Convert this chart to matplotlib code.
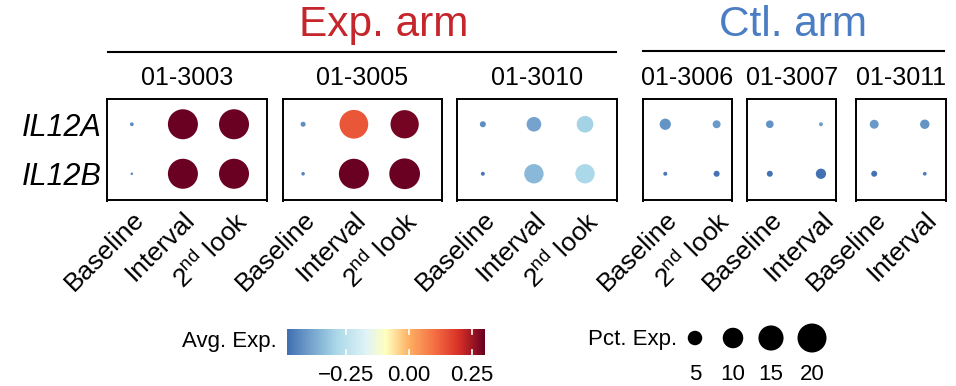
import numpy as np
import matplotlib
matplotlib.use("Agg")
import matplotlib.pyplot as plt
from matplotlib.colors import LinearSegmentedColormap

plt.rcParams['font.family'] = ['Liberation Sans', 'DejaVu Sans']
plt.rcParams['mathtext.fontset'] = 'custom'
plt.rcParams['mathtext.rm'] = 'Liberation Sans'
plt.rcParams['mathtext.it'] = 'Liberation Sans:italic'

# ---- data ----
genes = ["IL12A", "IL12B"]
samples = ["01-3003", "01-3005", "01-3010", "01-3006", "01-3007", "01-3011"]
SECOND = "2$^{\\mathrm{nd}}$ look"
timepoints = [
    ["Baseline", "Interval", SECOND],
    ["Baseline", "Interval", SECOND],
    ["Baseline", "Interval", SECOND],
    ["Baseline", SECOND],
    ["Baseline", "Interval"],
    ["Baseline", "Interval"],
]
# rows = genes, cols = timepoints
avg_exp = [
    [[-0.43, 0.30, 0.30], [-0.45, 0.30, 0.30]],
    [[-0.43, 0.14, 0.29], [-0.45, 0.30, 0.30]],
    [[-0.43, -0.39, -0.30], [-0.47, -0.35, -0.29]],
    [[-0.42, -0.41], [-0.47, -0.48]],
    [[-0.42, -0.40], [-0.48, -0.487]],
    [[-0.41, -0.42], [-0.48, -0.46]],
]
pct_exp = [
    [[0.35, 21.4, 21.4], [0.15, 21.4, 21.4]],
    [[0.60, 19.6, 19.0], [0.30, 21.4, 22.4]],
    [[0.86, 5.1, 6.6], [0.38, 8.9, 8.9]],
    [[3.0, 1.5], [0.38, 0.86]],
    [[1.4, 0.38], [0.86, 2.5]],
    [[1.9, 2.1], [0.86, 0.33]],
]
arms = ["Exp. arm", "Ctl. arm"]
arm_colors = ["#C4262C", "#4A7DC4"]
exp_min, exp_max = -0.487, 0.301
cbar_ticks = [-0.25, 0.00, 0.25]
size_breaks = [5, 10, 15, 20]

cmap = LinearSegmentedColormap.from_list("avg", [
    (0.0, "#4170B3"), (0.25, "#ABD9E9"), (0.4, "#E0F3F8"), (0.5, "#FFFFBF"),
    (0.62, "#FDAE61"), (0.75, "#F46D43"), (0.87, "#D73027"), (1.0, "#6A0022")])


def dot_size(p):
    return np.asarray(p) * 21.8


W, H = 956, 386
fig = plt.figure(figsize=(W / 100, H / 100), dpi=100)


def px_axes(x0, y0, x1, y1):
    return fig.add_axes([x0 / W, 1 - y1 / H, (x1 - x0) / W, (y1 - y0) / H])


# panel boxes in pixels and left/right padding in dot units
boxes = [(107.3, 266.7), (283.3, 441.7), (457.3, 616.7),
         (642.7, 731.5), (747.3, 836.3), (856, 945.5)]
pads = [(0.48, 0.64), (0.39, 0.73), (0.50, 0.62),
        (0.44, 0.29), (0.44, 0.30), (0.36, 0.41)]
box_top, box_bot = 99, 200.5

for i, s in enumerate(samples):
    ax = px_axes(boxes[i][0], box_top, boxes[i][1], box_bot)
    n = len(timepoints[i])
    xs, ys = np.meshgrid(np.arange(n), np.arange(len(genes)))
    ax.scatter(xs.ravel(), ys.ravel(), s=dot_size(np.array(pct_exp[i]).ravel()),
               c=np.array(avg_exp[i]).ravel(), cmap=cmap, vmin=exp_min, vmax=exp_max,
               linewidths=0, zorder=3)
    ax.set_xlim(-pads[i][0], n - 1 + pads[i][1])
    ax.set_ylim(1.54, -0.51)
    ax.set_xticks(range(n))
    ax.set_xticklabels(timepoints[i], rotation=45, ha='right', va='top',
                       rotation_mode='anchor', fontsize=19)
    ax.tick_params(axis='x', length=0, pad=5)
    ax.set_yticks(range(len(genes)))
    if i == 0:
        ax.set_yticklabels(genes, fontsize=22, style='italic')
        ax.tick_params(axis='y', length=0, pad=4)
    else:
        ax.set_yticklabels([])
        ax.tick_params(axis='y', length=0)
    for sp in ax.spines.values():
        sp.set_linewidth(1.4)
    ax.set_title(s, fontsize=18, pad=10)

# overlay for headers and size legend, in pixel coords
ov = fig.add_axes([0, 0, 1, 1])
ov.set_xlim(0, W)
ov.set_ylim(H, 0)
ov.axis('off')

ov.text(384, 36, arms[0], fontsize=30.5, color=arm_colors[0], ha='center', va='baseline')
ov.text(793, 36, arms[1], fontsize=30.5, color=arm_colors[1], ha='center', va='baseline')
ov.plot([108, 616], [52, 52], color='black', lw=1.5)
ov.plot([642.7, 944], [51, 51], color='black', lw=1.5)

# colour legend
ov.text(277, 342, "Avg. Exp.", fontsize=16, ha='right', va='center')
cax = px_axes(286.6, 329, 484.6, 355)
grad = np.linspace(exp_min, exp_max, 256).reshape(1, -1)
cax.imshow(grad, cmap=cmap, vmin=exp_min, vmax=exp_max, aspect='auto',
           extent=[exp_min, exp_max, 0, 1])
for t in cbar_ticks:
    cax.plot([t, t], [0, 0.2], color='white', lw=1.2)
    cax.plot([t, t], [0.8, 1], color='white', lw=1.2)
    cax.text(t, -0.4, f"{t:.2f}".replace("-", "\u2212"), fontsize=16,
             ha='center', va='top', transform=cax.transData, clip_on=False)
cax.set_xlim(exp_min, exp_max)
cax.set_ylim(0, 1)
cax.axis('off')

# size legend
ov.text(677, 339, "Pct. Exp.", fontsize=16, ha='right', va='center')
key_x = [695, 733, 771, 812]
ov.scatter(key_x, [338] * 4, s=dot_size(size_breaks), color='black', linewidths=0)
for x, b in zip(key_x, size_breaks):
    ov.text(x, 364, str(b), fontsize=16, ha='center', va='top')

fig.savefig("out.png", dpi=100)
